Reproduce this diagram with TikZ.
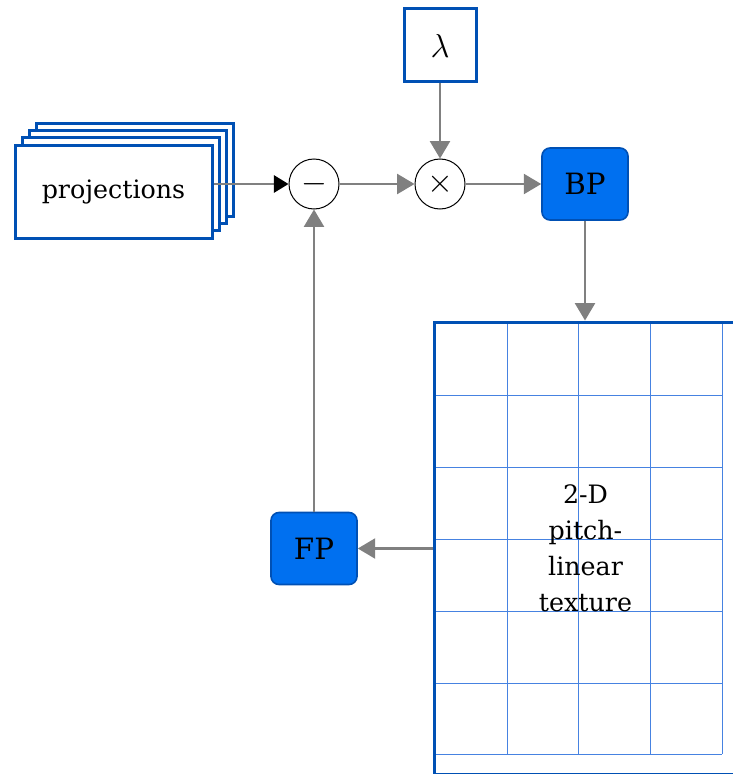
\documentclass[tikz,border=0pt]{standalone}
\usepackage{fontspec}
\setmainfont{DejaVu Serif}
\usetikzlibrary{arrows.meta}
\definecolor{edgeblue}{RGB}{0,80,180}
\definecolor{fillblue}{RGB}{0,112,240}
\definecolor{gridblue}{RGB}{70,130,225}
\definecolor{linegray}{RGB}{128,128,128}
\begin{document}
\begin{tikzpicture}[x=0.75pt,y=-0.75pt,
  sheet/.style={draw=edgeblue, line width=2.25pt, fill=white,
    minimum width=147.75pt, minimum height=69.75pt, inner sep=0pt},
  op/.style={circle, draw=black, line width=0.75pt, minimum size=37.5pt,
    inner sep=0pt, font=\fontsize{27}{30}\selectfont},
  proc/.style={draw=edgeblue, line width=1.2pt, fill=fillblue,
    rounded corners=6pt, minimum width=64.5pt, minimum height=54pt,
    inner sep=0pt, font=\fontsize{22}{26}\selectfont},
  flow/.style={draw=linegray, line width=1.6pt,
    -{Triangle[length=13pt,width=15pt]}},
  lbl/.style={font=\fontsize{19}{27}\selectfont},
]
\useasboundingbox (0,0) rectangle (732,774);

% stack of projection sheets, back to front
\node[sheet] (proj3) at (135.4,169.6) {};
\node[sheet] (proj2) at (128.1,176.9) {};
\node[sheet] (proj1) at (120.8,184.2) {};
\node[sheet, lbl] (proj) at (113.5,191.5) {projections};

% operators and blocks
\node[op] (minus) at (314,184) {$-$};
\node[op] (times) at (440,184) {$\times$};
\node[draw=edgeblue, line width=2.25pt, fill=white, minimum width=54pt,
  minimum height=54.75pt, inner sep=0pt, font=\fontsize{28}{32}\selectfont]
  (lam) at (440,45.5) {$\lambda$};
\node[proc] (BP) at (585,184) {BP};
\node[proc] (FP) at (314,548.5) {FP};

% texture grid
\foreach \gx in {507,578,650,722}
  \draw[gridblue, line width=0.75pt] (\gx,322) -- (\gx,754);
\foreach \gy in {395,467,539,611,683,754}
  \draw[gridblue, line width=0.75pt] (434,\gy) -- (722,\gy);
\node[draw=edgeblue, line width=2.25pt, minimum width=227.25pt,
  minimum height=339pt, inner sep=0pt] (tex) at (585.5,548) {};
\node[lbl, text width=75pt, align=center] (texlbl) at (tex.center)
  {2-D pitch-linear texture};

% connectors
\draw[linegray, line width=1.6pt,
  -{Triangle[length=11pt,width=13pt,color=black]}]
  (proj.east |- minus.west) -- (minus.west);
\draw[flow] (minus) -- (times);
\draw[flow] (lam) -- (times);
\draw[flow] (times) -- (BP);
\draw[flow] (BP.south) -- (BP.south |- tex.north);
\draw[flow] (tex.west |- FP.east) -- (FP.east);
\draw[flow] (FP) -- (minus);
\end{tikzpicture}
\end{document}
